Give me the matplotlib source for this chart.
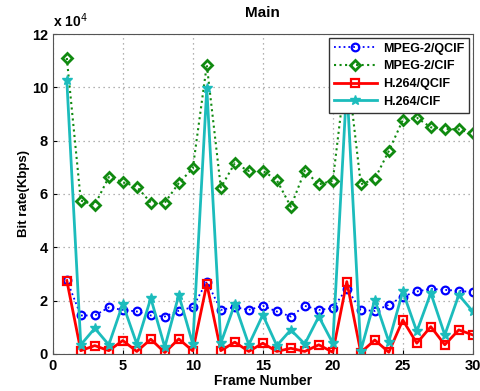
import numpy as np
import matplotlib
matplotlib.use('Agg')
import matplotlib.pyplot as plt

plt.rcParams['font.family'] = ['Liberation Sans', 'DejaVu Sans']

# bit rate per frame, in units of 1e4 Kbps
frames = np.arange(1, 31)
mpeg2_qcif = [2.77, 1.44, 1.44, 1.74, 1.65, 1.59, 1.44, 1.40, 1.62, 1.75,
              2.71, 1.65, 1.75, 1.65, 1.80, 1.59, 1.40, 1.80, 1.65, 1.71,
              2.45, 1.65, 1.61, 1.84, 2.15, 2.34, 2.44, 2.40, 2.37, 2.31]
mpeg2_cif = [11.1, 5.75, 5.59, 6.63, 6.44, 6.27, 5.67, 5.67, 6.41, 6.96,
             10.84, 6.24, 7.15, 6.86, 6.87, 6.52, 5.52, 6.87, 6.36, 6.49,
             10.9, 6.36, 6.56, 7.61, 8.77, 8.86, 8.50, 8.44, 8.42, 8.27]
h264_qcif = [2.75, 0.12, 0.31, 0.12, 0.50, 0.09, 0.55, 0.05, 0.56, 0.11,
             2.62, 0.12, 0.44, 0.09, 0.40, 0.09, 0.21, 0.09, 0.34, 0.06,
             2.71, 0.05, 0.52, 0.06, 1.27, 0.40, 1.02, 0.34, 0.90, 0.71]
h264_cif = [10.27, 0.34, 0.96, 0.34, 1.87, 0.37, 2.09, 0.25, 2.21, 0.37,
            9.96, 0.40, 1.87, 0.34, 1.46, 0.31, 0.90, 0.37, 1.40, 0.40,
            10.1, 0.12, 2.03, 0.46, 2.34, 0.84, 2.28, 0.71, 2.21, 1.59]

fig = plt.figure(figsize=(4.8, 3.91), dpi=100)
ax = fig.add_axes([0.110, 0.095, 0.875, 0.818])

ax.plot(frames, mpeg2_qcif, ':', color='#0000ff', lw=1.3, marker='o', ms=5.5,
        mfc='none', mec='#0000ff', mew=1.6, label='MPEG-2/QCIF')
ax.plot(frames, mpeg2_cif, ':', color='#108a10', lw=1.5, marker='D', ms=5,
        mfc='none', mec='#108a10', mew=2.0, label='MPEG-2/CIF')
ax.plot(frames, h264_qcif, '-', color='#ff0000', lw=2.0, marker='s', ms=5.5,
        mfc='none', mec='#ff0000', mew=1.6, label='H.264/QCIF')
ax.plot(frames, h264_cif, '-', color='#1cbcbc', lw=2.0, marker='*', ms=7,
        mfc='#1cbcbc', mec='#1cbcbc', label='H.264/CIF')

ax.set_xlim(0, 30)
ax.set_ylim(0, 12)
ax.set_xticks(np.arange(0, 31, 5))
ax.set_yticks(np.arange(0, 13, 2))
ax.grid(True, color='#999999', lw=0.9, dashes=(1, 3))
ax.tick_params(direction='in', labelsize=10.5, length=3)
for lbl in ax.get_xticklabels() + ax.get_yticklabels():
    lbl.set_fontweight('bold')
for sp in ax.spines.values():
    sp.set_color('#555555')

ax.set_title('Main', fontsize=11, fontweight='bold', pad=12)
ax.set_xlabel('Frame Number', fontsize=10, fontweight='bold', labelpad=1)
ax.set_ylabel('Bit rate(Kbps)', fontsize=9.5, fontweight='bold', labelpad=1)
ax.text(0.0, 1.012, r'x 10$^{4}$', transform=ax.transAxes, fontsize=10,
        fontweight='bold', ha='left', va='bottom')

leg = ax.legend(loc='upper right', prop={'weight': 'bold', 'size': 9},
                fancybox=False, framealpha=1, edgecolor='#333333',
                borderaxespad=0.3, handlelength=3.4, labelspacing=0.45,
                borderpad=0.4, handletextpad=0.5)
leg.get_frame().set_linewidth(1.0)

fig.savefig('out.png', dpi=100)
